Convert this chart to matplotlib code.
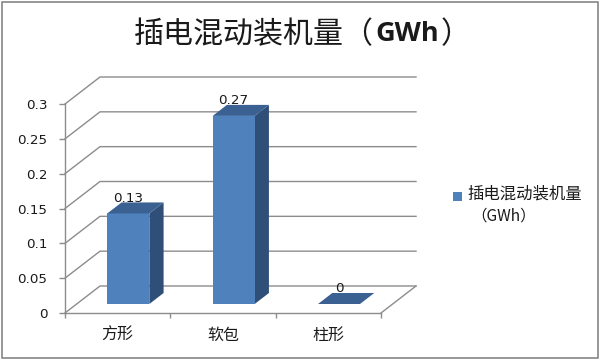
# -*- coding: utf-8 -*-
import matplotlib
matplotlib.use('Agg')
import matplotlib.pyplot as plt
from matplotlib.patches import Polygon, Rectangle

plt.rcParams['font.family'] = ['Noto Sans CJK SC', 'DejaVu Sans']

categories = ['方形', '软包', '柱形']
values = [0.13, 0.27, 0]
value_labels = ['0.13', '0.27', '0']
y_ticks = [0, 0.05, 0.1, 0.15, 0.2, 0.25, 0.3]
y_tick_labels = ['0', '0.05', '0.1', '0.15', '0.2', '0.25', '0.3']
title_main = '插电混动装机量（'
title_unit = 'GWh'
title_end = '）'
legend_line1 = '插电混动装机量'
legend_line2 = '（GWh）'

grid_col = '#8c8c8c'
front_col = '#4f81bd'
side_col = '#2f4f78'
top_col = '#3a6191'
text_col = '#1a1a1a'

W, H = 600.0, 359.0
fig = plt.figure(figsize=(6, 3.59), dpi=100)
ax = fig.add_axes([65/W, (H-313)/H, 316/W, 209/H])
ax.set_xlim(0, 3)
ax.set_ylim(0, 0.3)
ax.patch.set_visible(False)

# oblique depth: depth 1 = back wall, 35 px right and 27 px up
depth_x = 35.0/316*3
depth_y = 27.0/209*0.3

def proj(x, y, d):
    return (x + d*depth_x, y + d*depth_y)

# back wall grid + side lines
for t in y_ticks:
    p0 = proj(0, t, 0)
    p1 = proj(0, t, 1)
    p2 = proj(3, t, 1)
    ax.plot([p0[0], p1[0], p2[0]], [p0[1], p1[1], p2[1]], color=grid_col, lw=1, clip_on=False, zorder=1)
p0 = proj(3, 0, 0)
p1 = proj(3, 0, 1)
ax.plot([p0[0], p1[0]], [p0[1], p1[1]], color=grid_col, lw=1, clip_on=False, zorder=1)

# bars
bar_w = 42.0/316*3
bar_shift = -1.0/316*3
d0, d1 = 1/3.0, 1/3.0 + 11.0/27
for i, v in enumerate(values):
    x0 = i + 0.5 - bar_w/2 + bar_shift
    x1 = i + 0.5 + bar_w/2 + bar_shift
    front = [proj(x0, 0, d0), proj(x1, 0, d0), proj(x1, v, d0), proj(x0, v, d0)]
    side = [proj(x1, 0, d0), proj(x1, 0, d1), proj(x1, v, d1), proj(x1, v, d0)]
    top = [proj(x0, v, d0), proj(x1, v, d0), proj(x1, v, d1), proj(x0, v, d1)]
    ax.add_patch(Polygon(side, closed=True, fc=side_col, ec='none', clip_on=False, zorder=3))
    ax.add_patch(Polygon(front, closed=True, fc=front_col, ec='none', clip_on=False, zorder=3))
    ax.add_patch(Polygon(top, closed=True, fc=top_col, ec='none', clip_on=False, zorder=3))
    ax.annotate(value_labels[i], xy=proj(i + 0.5 + bar_shift, v, d0), xytext=(0, 10.8), textcoords='offset points',
                ha='center', va='center', fontsize=9.7, color=text_col, family='DejaVu Sans',
                annotation_clip=False, zorder=4)

for s in ['top', 'right']:
    ax.spines[s].set_visible(False)
for s in ['left', 'bottom']:
    ax.spines[s].set_color(grid_col)
    ax.spines[s].set_linewidth(1)

ax.set_yticks(y_ticks)
ax.set_yticklabels(y_tick_labels, fontsize=9.7, color=text_col, family='DejaVu Sans')
ax.tick_params(axis='y', length=4.3, width=1, color=grid_col, pad=8.5)
ax.set_xticks(range(0, 4))
ax.set_xticklabels([])
ax.tick_params(axis='x', which='major', length=3.5, width=1, color=grid_col)
ax.set_xticks([i + 0.5 for i in range(len(categories))], minor=True)
ax.set_xticklabels(categories, minor=True, fontsize=11.5, color=text_col)
ax.tick_params(axis='x', which='minor', length=0, pad=10)

# title, three pieces since the unit is bold
fig.text(134/W, 1 - 35/H, title_main, fontsize=21.6, color=text_col, ha='left', va='center')
fig.text(375/W, 1 - 34/H, title_unit, fontsize=19.5, color=text_col, ha='left', va='center',
         family='Open Sans', fontweight='bold')
fig.text(441/W, 1 - 35/H, title_end, fontsize=21.6, color=text_col, ha='left', va='center')

# legend
fig.add_artist(Rectangle((453/W, 1 - 201/H), 9/W, 9/H, transform=fig.transFigure, fc=front_col, ec='none'))
fig.text(467/W, 1 - 194/H, legend_line1, fontsize=11.8, color=text_col, ha='left', va='center')
fig.text(471/W, 1 - 216/H, legend_line2, fontsize=11.2, color=text_col, ha='left', va='center')

# chart frame
fig.add_artist(Rectangle((2/W, 1/H), 596/W, 356/H, transform=fig.transFigure, fc='none', ec='#868686', lw=1.2))

fig.savefig('out.png', dpi=100)
